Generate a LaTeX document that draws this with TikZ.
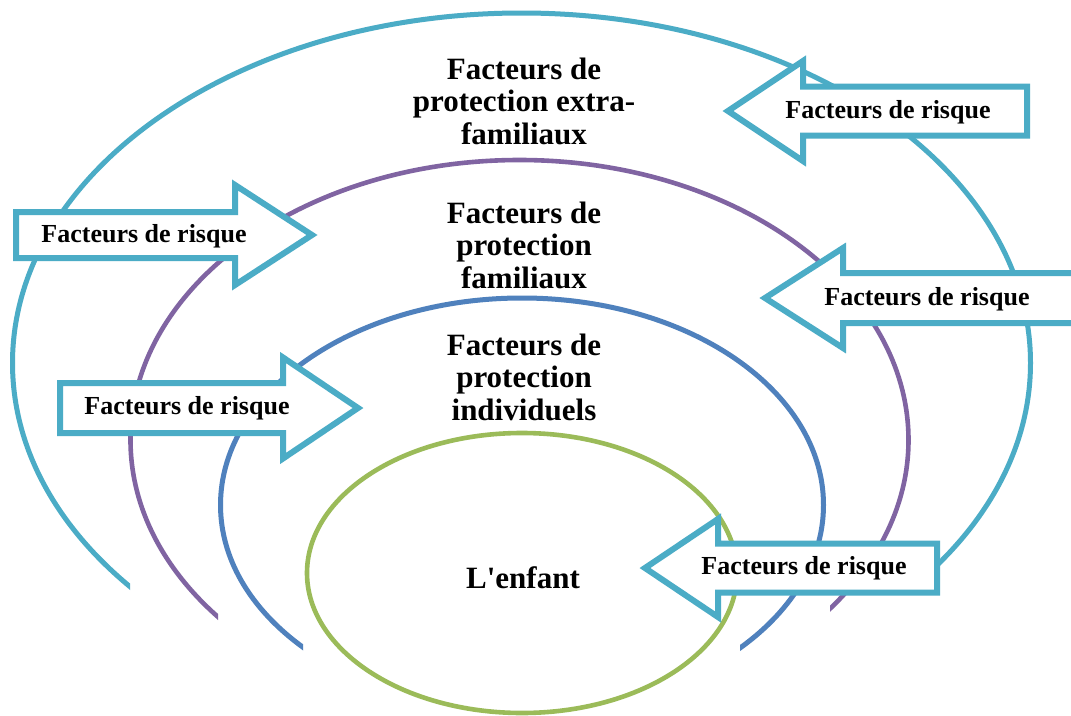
\documentclass[tikz,border=0pt]{standalone}
\usepackage{fontspec}
\setmainfont{Liberation Serif}
\definecolor{ringaqua}{HTML}{4BACC6}
\definecolor{ringpurple}{HTML}{8064A2}
\definecolor{ringblue}{HTML}{4F81BD}
\definecolor{ringgreen}{HTML}{9BBB59}
\definecolor{arrowteal}{HTML}{4BACC6}

% block arrow: #1 tip x, #2 axis y, #3 head base x, #4 tail x,
% #5 shaft half-height, #6 head half-height
\newcommand{\riskarrow}[6]{%
  \draw[arrowbox] (#1,#2) -- (#3,#2-#6) -- (#3,#2-#5) -- (#4,#2-#5)
    -- (#4,#2+#5) -- (#3,#2+#5) -- (#3,#2+#6) -- cycle;}

% open ring: ellipse with its lower part removed between two vertical cuts
% #1 colour, #2 cx, #3 cy, #4 rx, #5 ry, #6 left cut x, #7 right cut x
\newcommand{\openring}[7]{%
  \begin{scope}
    \clip (0,0) rectangle (#6,715) (#7,0) rectangle (1071,715)
          (0,0) rectangle (1071,#3);
    \draw[ring,#1] (#2,#3) ellipse [x radius=#4pt, y radius=#5pt];
  \end{scope}}

\begin{document}
\begin{tikzpicture}[x=1pt,y=-1pt,
  ring/.style={line width=5pt},
  arrowbox/.style={draw=arrowteal, fill=white, line width=6pt, line join=miter},
  bigtxt/.style={font=\fontsize{31}{32.5}\selectfont\bfseries, align=center,
                 inner sep=0pt, anchor=base},
  risktxt/.style={font=\fontsize{26}{28}\selectfont\bfseries, inner sep=0pt,
                  anchor=base}]

\fill[white] (0,0) rectangle (1071,715);
\useasboundingbox (0,0) rectangle (1071,715);

\begin{scope}
\clip (0,0) rectangle (1071,715);

% nested rings, open at the bottom
\openring{ringaqua}{521.5}{363}{509}{350}{130}{938}
\openring{ringpurple,line width=4.6pt}{519.5}{440}{389}{280}{218}{830}
\openring{ringblue}{522}{505}{301.5}{207}{303}{740}
\draw[ring,ringgreen,line width=4.6pt] (522,573) ellipse [x radius=215pt, y radius=140pt];

% risk arrows
\riskarrow{728}{111}{803}{1027}{24.5}{50}
\riskarrow{312}{235}{235}{16}{23}{50}
\riskarrow{765}{298}{843}{1090}{25}{50}
\riskarrow{358}{408}{283}{60}{25}{50.5}
\riskarrow{645}{568}{718}{937}{24.5}{49}
\end{scope}

% ring labels (anchored on the baseline of the last line)
\node[bigtxt] (extra) at (524,144) {Facteurs de\\protection extra-\\familiaux};
\node[bigtxt] (famil) at (524,288) {Facteurs de\\protection\\familiaux};
\node[bigtxt] (indiv) at (524,420) {Facteurs de\\protection\\individuels};
\node[bigtxt] (child) at (523,588) {L\textquotesingle enfant};

% arrow labels
\node[risktxt] (risk1) at (888,118) {Facteurs de risque};
\node[risktxt] (risk2) at (144,242) {Facteurs de risque};
\node[risktxt] (risk3) at (927,305) {Facteurs de risque};
\node[risktxt] (risk4) at (187,414) {Facteurs de risque};
\node[risktxt] (risk5) at (804,574) {Facteurs de risque};
\end{tikzpicture}
\end{document}
